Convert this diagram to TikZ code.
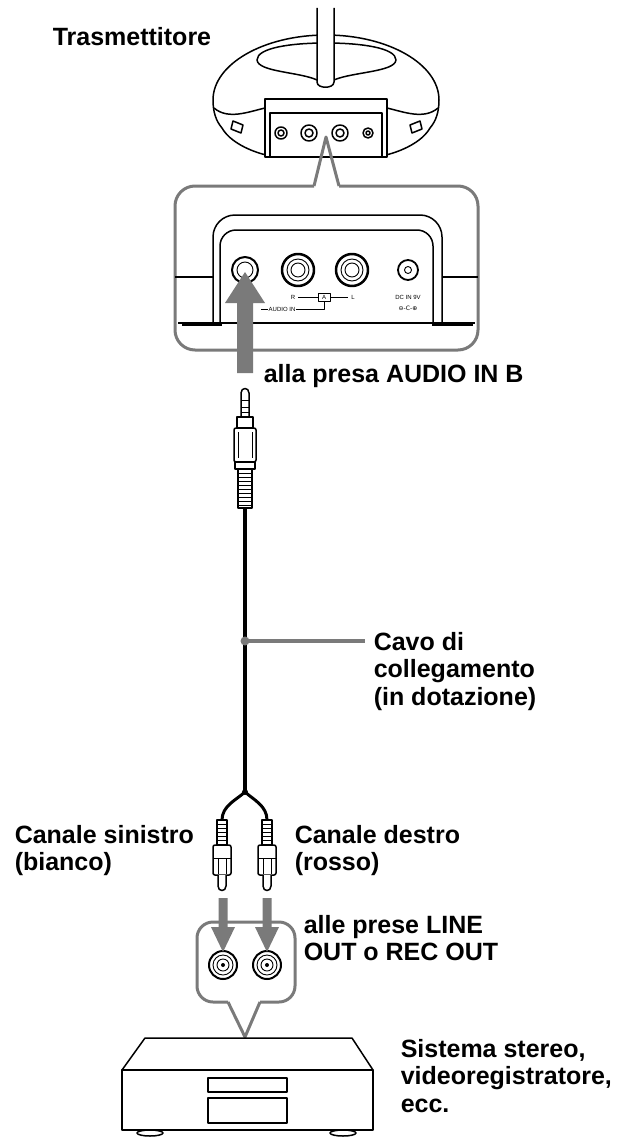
\documentclass[tikz,border=0pt]{standalone}
\usepackage{fontspec}
\setmainfont{Liberation Sans}
\newfontfamily\symfont{DejaVu Sans}
\usetikzlibrary{arrows.meta, positioning}

\definecolor{callgray}{gray}{0.48}
\definecolor{arrgray}{gray}{0.48}

\tikzset{
  lbl/.style={font=\bfseries\fontsize{25}{27.5}\selectfont, align=left, anchor=base west, inner sep=0pt},
  mini/.style={font=\fontsize{6}{6}\selectfont, inner sep=0pt},
  callout/.style={draw=callgray, line width=3pt, line join=round},
  thin/.style={line width=0.9pt},
}

\begin{document}
\begin{tikzpicture}[x=1pt, y=-1pt, line width=1.5pt, line join=round]
  \useasboundingbox (0,0) rectangle (620,1140);

  % transmitter
  \draw (213,100) .. controls (213,64) and (264,35) .. (326,35)
        .. controls (388,35) and (439,64) .. (439,100);
  \draw (257,60) .. controls (257,48) and (290,43) .. (326,43)
        .. controls (362,43) and (396,48) .. (396,60);
  \draw (257,60) .. controls (258,72) and (300,72) .. (317,80);
  \draw (396,60) .. controls (395,72) and (352,72) .. (334,80);
  \draw (213,100) .. controls (213,112) and (216,121) .. (222,128)
        .. controls (230,142) and (250,151) .. (266,155);
  \draw (439,100) .. controls (439,112) and (436,121) .. (430,128)
        .. controls (422,142) and (402,151) .. (386,155);
  \draw (214,108) .. controls (228,120) and (248,112) .. (265,108);
  \draw (438,108) .. controls (424,120) and (404,112) .. (387,108);
  \draw (233,121) -- (243,125) -- (241,133) -- (231,129) -- cycle;
  \draw (420,121) -- (410,125) -- (412,133) -- (422,129) -- cycle;
  \draw[fill=white] (317,8) -- (317,82) .. controls (317,89) and (334,89) .. (334,82) -- (334,8);
  \draw[fill=white] (265,157) -- (265,99) -- (387,99) -- (387,157) -- cycle;
  \draw (270,157) -- (270,113) -- (382,113) -- (382,157);
  \foreach \x/\r/\s in {281/6pt/3pt, 309/8pt/4pt, 340/8pt/4pt, 368/5pt/2pt}
    \draw (\x,133) circle[radius=\r] circle[radius=\s];

  % close-up of the back panel
  \draw[callout] (314,186) -- (326,137) -- (339,186);
  \draw[callout, rounded corners=20pt] (339,186) -- (478,186) -- (478,350)
        -- (175,350) -- (175,186) -- (314,186);
  \draw (175,277) -- (213,277) (442,277) -- (478,277);
  \draw (178,323) -- (475,323);
  \draw[line width=2.5pt] (182,325) -- (222,325) (432,325) -- (473,325);
  \draw[rounded corners=22pt] (213,323) -- (213,215) -- (442,215) -- (442,323);
  \draw[rounded corners=16pt] (220,323) -- (220,230) -- (433,230) -- (433,323);

  \coordinate (jB) at (245,270);
  \coordinate (jR) at (298,270);
  \coordinate (jL) at (352,270);
  \coordinate (jDC) at (408,270);
  \draw[line width=2pt] (jB) circle[radius=13pt];
  \draw[thin] (jB) circle[radius=8pt];
  \foreach \j in {jR, jL} {
    \draw[line width=2.5pt] (\j) circle[radius=16pt];
    \draw[thin] (\j) circle[radius=11pt] circle[radius=7pt];
  }
  \draw[line width=1.8pt] (jDC) circle[radius=10pt];
  \draw[thin] (jDC) circle[radius=3.5pt];

  \node (r) [mini] at (293,297) {R};
  \node (l) [mini] at (353,297) {L};
  \node (a) [mini, draw, line width=0.6pt, minimum width=12pt, minimum height=8pt] at (324,297) {A};
  \node (ain) [mini] at (282,309) {AUDIO IN};
  \node (dc) [mini] at (408,297) {DC IN 9V};
  \node (pol) [mini] at (408,308) {\symfont ⊖-C-⊕};
  \draw[line width=0.6pt] (r) ++(5,0) -- (a.west) (a.east) -- ++(18,0);
  \draw[line width=0.6pt] (ain.west) -- ++(-7,0) (ain.east) -- (a.south |- ain.east) -- (a.south);

  \coordinate (inB) at (245,272);
  \fill[arrgray] (237,373) -- (237,303) -- (225,303) -- (inB) -- (265,303)
        -- (253,303) -- (253,373) -- cycle;
  \node (inBtxt) [lbl] at (263,382) {alla presa AUDIO IN B};

  % mini plug and cable
  \draw[fill=white] (241,417) -- (241,393) .. controls (241,387) and (249,387) .. (249,393) -- (249,417);
  \draw[thin] (241,400) -- (249,400) (241,407) -- (249,407) (241,412) -- (249,412);
  \draw[fill=white] (237,417) rectangle (253,428);
  \draw[fill=white, rounded corners=2pt] (234,428) rectangle (256,462);
  \draw[thin] (238,432) -- (238,458) (252,432) -- (252,458);
  \draw[fill=white] (235,462) rectangle (255,469);
  \draw[fill=white] (238,469) rectangle (252,508);
  \foreach \y in {473,477,...,505} \draw[thin] (238,\y) -- (252,\y);

  \coordinate (plugB) at (245,508);
  \coordinate (dot) at (245,641);
  \coordinate (lead) at (365,641);
  \coordinate (jn) at (245,792);
  \draw[line width=4pt] (plugB) -- (jn);
  \draw[callgray, line width=4pt] (dot) -- (lead);
  \fill[callgray] (dot) circle[radius=4.5pt];
  \node (cavo) [lbl] at (373,705) {Cavo di\\collegamento\\(in dotazione)};

  % pin plugs
  \coordinate (plugL) at (222,820);
  \coordinate (plugR) at (267,820);
  \draw[line width=3pt] (jn) .. controls (236,800) and (222,806) .. (plugL);
  \draw[line width=3pt] (jn) .. controls (254,800) and (267,806) .. (plugR);
  \fill (jn) circle[radius=3pt];
  \foreach \x in {222,267} {
    \draw[fill=white] (\x-5,820) rectangle (\x+5,845);
    \foreach \y in {824,828,...,842} \draw[thin] (\x-5,\y) -- (\x+5,\y);
    \draw[fill=white, rounded corners=2pt] (\x-9,845) rectangle (\x+9,875);
    \draw[thin] (\x-9,858) -- (\x+9,858) (\x-4,858) -- (\x-4,874) (\x+4,858) -- (\x+4,874);
    \draw[fill=white] (\x-4,875) -- (\x-4,886) .. controls (\x-4,892) and (\x+4,892) .. (\x+4,886) -- (\x+4,875);
  }
  \node (sx) [lbl] at (14,870.5) {Canale sinistro\\(bianco)};
  \node (dx) [lbl] at (294,870.5) {Canale destro\\(rosso)};

  % close-up of the output jacks
  \draw[callout, rounded corners=16pt] (228,1002) -- (197,1002) -- (197,922)
        -- (295,922) -- (295,1002) -- (260,1002);
  \draw[callout] (228,1002) -- (245,1037) -- (260,1002);
  \foreach \x in {223,267} {
    \draw[line width=2pt] (\x,965) circle[radius=14pt];
    \draw[thin] (\x,965) circle[radius=10pt] circle[radius=6pt];
    \fill (\x,965) circle[radius=2pt];
    \fill[arrgray] (\x-4.5,898) -- (\x-4.5,927) -- (\x-12,927) -- (\x,952)
          -- (\x+12,927) -- (\x+4.5,927) -- (\x+4.5,898) -- cycle;
  }
  \node (out) [lbl] at (303,960.5) {alle prese LINE\\OUT o REC OUT};

  % stereo system
  \draw (150,1133) ellipse[x radius=13pt, y radius=3pt];
  \draw (343,1133) ellipse[x radius=13pt, y radius=3pt];
  \draw[fill=white] (145,1038) -- (352,1038) -- (373,1070) -- (122,1070) -- cycle;
  \draw[fill=white] (122,1070) rectangle (373,1130);
  \draw[line width=2.5pt] (122,1130) -- (373,1130);
  \draw (208,1078) rectangle (287,1092);
  \draw (208,1098) rectangle (287,1123);
  \node (sys) [lbl] at (400,1112) {Sistema stereo,\\videoregistratore,\\ecc.};

  \node (tx) [lbl] at (52,46) {Trasmettitore};
\end{tikzpicture}
\end{document}
